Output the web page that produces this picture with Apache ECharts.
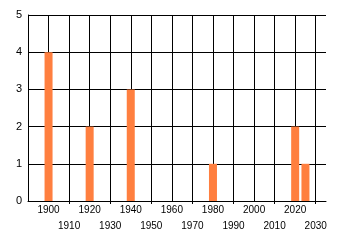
<!DOCTYPE html>
<html>
<head>
<meta charset="utf-8">
<script src="https://cdn.jsdelivr.net/npm/echarts@6/dist/echarts.min.js"></script>
<style>
html,body{margin:0;padding:0;background:#fff;}
#c{width:340px;height:245px;}
</style>
</head>
<body>
<div id="c"></div>
<script>
var years = [1900, 1920, 1940, 1980, 2020, 2025];
var counts = [4, 2, 3, 1, 2, 1];
var xLabelFirst = 1900, xLabelLast = 2030;
var xTickValues = [1910, 1930, 1950, 1970, 1990, 2010, 2030];
var yTicks = [0, 1, 2, 3, 4, 5];

var chart = echarts.init(document.getElementById('c'), null, {renderer: 'canvas'});
var font = '"Liberation Sans", Arial, sans-serif';
chart.setOption({
  animation: false,
  backgroundColor: '#ffffff',
  grid: {left: 28, right: 14, top: 15, bottom: 44, containLabel: false},
  xAxis: [{
    type: 'value',
    min: 1890,
    max: 2035,
    interval: 10,
    axisLine: {show: true, lineStyle: {color: '#000', width: 1}},
    axisTick: {show: false},
    axisLabel: {
      color: '#000', fontFamily: font, fontSize: 10, margin: 1, lineHeight: 16,
      showMinLabel: true, showMaxLabel: true, hideOverlap: false,
      formatter: function (v) {
        if (v < xLabelFirst || v > xLabelLast) return '';
        return ((v - 1900) / 10) % 2 === 1 ? '\n' + v : String(v);
      }
    },
    splitLine: {show: true, showMaxLine: false, lineStyle: {color: '#000', width: 1}}
  }, {
    type: 'value',
    position: 'bottom',
    min: 1890,
    max: 2035,
    interval: 10,
    axisLine: {show: false},
    axisTick: {show: true, length: 3, customValues: xTickValues, lineStyle: {color: '#000'}},
    axisLabel: {show: false},
    splitLine: {show: false}
  }],
  yAxis: {
    type: 'value',
    min: yTicks[0],
    max: yTicks[yTicks.length - 1],
    interval: 1,
    axisLine: {show: true, lineStyle: {color: '#000', width: 1}},
    axisTick: {show: false},
    axisLabel: {color: '#000', fontFamily: font, fontSize: 11, margin: 6},
    splitLine: {show: true, lineStyle: {color: '#000', width: 1}}
  },
  series: [{
    type: 'bar',
    barWidth: 8,
    itemStyle: {color: '#ff7f3f'},
    data: years.map(function (y, i) { return [y, counts[i]]; })
  }]
});
</script>
</body>
</html>
